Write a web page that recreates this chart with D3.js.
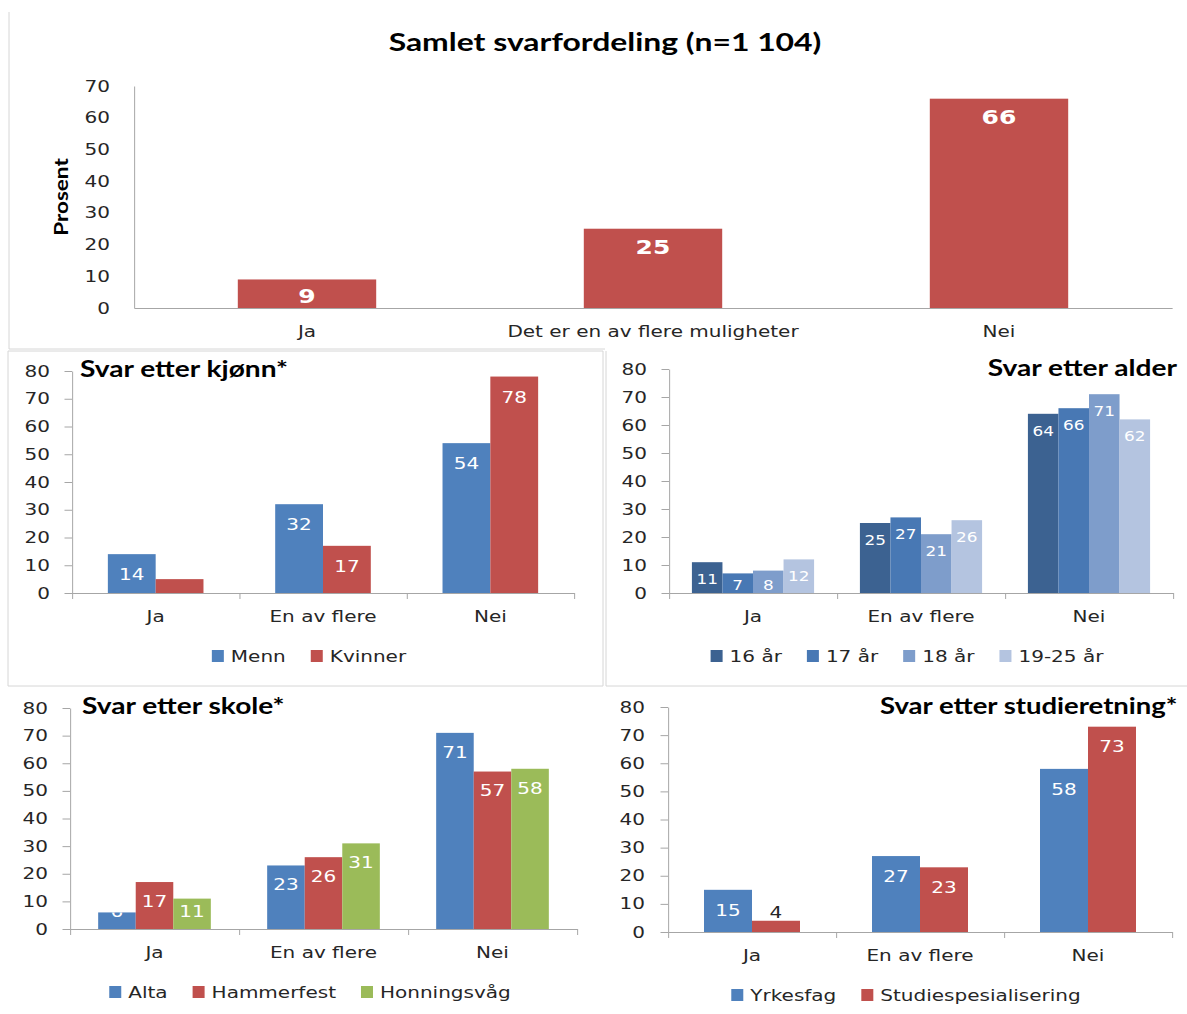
<!DOCTYPE html>
<html>
<head>
<meta charset="utf-8">
<script src="https://cdn.jsdelivr.net/npm/d3@7"></script>
<style>
  html, body { margin: 0; padding: 0; background: #fff; }
  svg { display: block; }
  svg line, svg path, svg rect.frame { vector-effect: non-scaling-stroke; }
</style>
</head>
<body>
<svg id="chart" width="1187" height="1014"></svg>
<script>
// ---- data -------------------------------------------------------------
const overallCategories = ["Ja", "Det er en av flere muligheter", "Nei"];
const overallValues = [9, 25, 66];
const overallTicks = [0, 10, 20, 30, 40, 50, 60, 70];

const groupCategories = ["Ja", "En av flere", "Nei"];
const groupTicks = [0, 10, 20, 30, 40, 50, 60, 70, 80];

const genderNames = ["Menn", "Kvinner"];
const genderMenn = [14, 32, 54];
const genderKvinner = [5, 17, 78];

const ageNames = ["16 år", "17 år", "18 år", "19-25 år"];
const age16 = [11, 25, 64];
const age17 = [7, 27, 66];
const age18 = [8, 21, 71];
const age19to25 = [12, 26, 62];

const schoolNames = ["Alta", "Hammerfest", "Honningsvåg"];
const schoolAlta = [6, 23, 71];
const schoolHammerfest = [17, 26, 57];
const schoolHonningsvag = [11, 31, 58];

const programNames = ["Yrkesfag", "Studiespesialisering"];
const programYrkesfag = [15, 27, 58];
const programStudie = [4, 23, 73];

// ---- drawing setup ----------------------------------------------------
// The sheet is drawn in a horizontally widened space; x values below are
// page pixels and are converted into that space with ux().
const SX = 1.25;
const ux = v => v / SX;

const NUM_FONT = "'DejaVu Sans', Verdana, sans-serif";
const TITLE_FONT = "Lato, 'Open Sans', sans-serif";
const TEXT = "#262626";
const AXIS = "#a6a6a6";
const FRAME = "#d6d6d6";
const RED = "#c0504d", BLUE = "#4f81bd", GREEN = "#9bbb59";

const svg = d3.select("#chart");
const root = svg.append("g").attr("transform", `scale(${SX},1)`);
let clipId = 0;

// panel frames
const frames = root.append("g").attr("stroke", FRAME).attr("fill", "none");
[[9, 12, 9, 349], [9, 349, 605, 349], [606, 351, 606, 686], [606, 686, 1187, 686]]
  .forEach(([a, b, c, d]) => frames.append("line")
    .attr("x1", ux(a)).attr("y1", b).attr("x2", ux(c)).attr("y2", d));
frames.append("rect").attr("class", "frame")
  .attr("x", ux(8)).attr("y", 351).attr("width", ux(603) - ux(8)).attr("height", 335);

function drawPanel(cfg) {
  const g = root.append("g");
  const cat = d3.scaleBand().domain(cfg.categories).range([ux(cfg.x0), ux(cfg.x1)]);
  const sub = d3.scaleBand().domain(cfg.series.map(s => s.name))
    .range([0, cat.bandwidth()]).paddingInner(0).paddingOuter(0.75);
  const y = d3.scaleLinear().domain([0, cfg.max]).range([cfg.y0, cfg.yTop]);

  // y axis
  g.append("g").attr("transform", `translate(${ux(cfg.x0)},0)`)
    .call(d3.axisLeft(y).tickValues(cfg.ticks).tickSize(cfg.yTick).tickSizeOuter(0)
      .tickPadding(ux(cfg.yLabelGap) - cfg.yTick));
  // x axis labels at category centres
  g.append("g").attr("transform", `translate(0,${cfg.y0})`)
    .call(d3.axisBottom(cat).tickSize(0).tickSizeOuter(0).tickPadding(18));
  // x axis tick marks on category boundaries
  if (cfg.xTick > 0) {
    const edges = d3.scaleLinear().domain([0, cfg.categories.length]).range([ux(cfg.x0), ux(cfg.x1)]);
    g.append("g").attr("transform", `translate(0,${cfg.y0})`)
      .call(d3.axisBottom(edges).ticks(cfg.categories.length).tickFormat("").tickSize(cfg.xTick).tickSizeOuter(0))
      .select(".domain").remove();
  }
  g.selectAll(".domain, .tick line").attr("stroke", AXIS);
  g.selectAll(".tick text").attr("fill", TEXT).attr("font-family", NUM_FONT).attr("font-size", 16);

  // bars and value labels
  const bars = g.append("g");
  const labels = g.append("g");
  cfg.series.forEach(s => {
    s.values.forEach((v, i) => {
      const bx = cat(cfg.categories[i]) + sub(s.name);
      const bw = sub.bandwidth();
      const top = y(v), base = y(0);
      bars.append("rect").attr("x", bx).attr("y", top).attr("width", bw)
        .attr("height", base - top).attr("fill", s.color);

      const fs = cfg.valueSize;
      let cy = top + cfg.valueOffset;
      let fill = "#fff", clipped = true;
      if (cfg.small === "clamp") cy = Math.min(cy, base - cfg.clampGap);
      if (cy - fs * 0.36 >= base && cfg.small === "hide") return;
      if (cy + fs * 0.36 > base && cfg.small === "outside") {
        cy = top - 9; fill = TEXT; clipped = false;
      }
      const t = labels.append("text")
        .attr("x", bx + bw / 2).attr("y", cy).attr("dy", "0.36em")
        .attr("text-anchor", "middle").attr("fill", fill)
        .attr("font-family", NUM_FONT).attr("font-size", fs)
        .attr("font-weight", cfg.valueWeight).text(v);
      if (clipped) {
        const id = "barclip" + (clipId++);
        g.append("clipPath").attr("id", id).append("rect")
          .attr("x", bx).attr("y", top).attr("width", bw).attr("height", base - top);
        t.attr("clip-path", `url(#${id})`);
      }
    });
  });

  // title
  g.append("text").attr("x", ux(cfg.title.x)).attr("y", cfg.title.y).attr("dy", "0.36em")
    .attr("text-anchor", cfg.title.anchor).attr("font-family", TITLE_FONT)
    .attr("font-weight", 700).attr("font-size", cfg.title.size).attr("fill", "#000")
    .text(cfg.title.text);

  // legend
  if (cfg.legend) {
    const lg = g.append("g");
    const sq = ux(12), gapText = ux(7), gapItem = ux(25);
    let cx = 0;
    cfg.series.forEach(s => {
      const item = lg.append("g").attr("transform", `translate(${cx},0)`);
      item.append("rect").attr("x", 0).attr("y", cfg.legend.y - 6).attr("width", sq).attr("height", 12).attr("fill", s.color);
      const tx = item.append("text").attr("x", sq + gapText).attr("y", cfg.legend.y).attr("dy", "0.36em")
        .attr("font-family", NUM_FONT).attr("font-size", 16).attr("fill", TEXT).text(s.name);
      cx += sq + gapText + tx.node().getComputedTextLength() + gapItem;
    });
    const total = cx - gapItem;
    lg.attr("transform", `translate(${ux(cfg.legend.cx) - total / 2},0)`);
  }
  return g;
}

// Overall distribution
const overall = drawPanel({
  x0: 134, x1: 1172, y0: 308, yTop: 86, max: 70, ticks: overallTicks,
  categories: overallCategories,
  series: [{ name: "Prosent", values: overallValues, color: RED }],
  yTick: 0, xTick: 0, yLabelGap: 24,
  valueSize: 20, valueWeight: 700, valueOffset: 18, small: "clamp", clampGap: 12,
  title: { text: "Samlet svarfordeling (n=1 104)", x: 605, y: 42, anchor: "middle", size: 25.5 },
  legend: null
});
overall.append("text")
  .attr("transform", `translate(${ux(62)},197) scale(${1 / SX},1) rotate(-90) scale(${SX},1)`)
  .attr("dy", "0.36em").attr("text-anchor", "middle")
  .attr("font-family", TITLE_FONT).attr("font-weight", 700).attr("font-size", 18).attr("fill", "#000")
  .text("Prosent");

// By gender
drawPanel({
  x0: 72, x1: 574, y0: 593, yTop: 371, max: 80, ticks: groupTicks,
  categories: groupCategories,
  series: [{ name: genderNames[0], values: genderMenn, color: BLUE },
           { name: genderNames[1], values: genderKvinner, color: RED }],
  yTick: 6, xTick: 6, yLabelGap: 22,
  valueSize: 16, valueWeight: 400, valueOffset: 20.5, small: "hide",
  title: { text: "Svar etter kjønn*", x: 80, y: 369, anchor: "start", size: 22.5 },
  legend: { cx: 309, y: 656 }
});

// By age
drawPanel({
  x0: 669, x1: 1173, y0: 593, yTop: 369, max: 80, ticks: groupTicks,
  categories: groupCategories,
  series: [{ name: ageNames[0], values: age16, color: "#3c6291" },
           { name: ageNames[1], values: age17, color: "#4878b4" },
           { name: ageNames[2], values: age18, color: "#7e9dcb" },
           { name: ageNames[3], values: age19to25, color: "#b4c4e0" }],
  yTick: 6, xTick: 6, yLabelGap: 22,
  valueSize: 13.5, valueWeight: 400, valueOffset: 17, small: "clamp", clampGap: 8,
  title: { text: "Svar etter alder", x: 1177, y: 368, anchor: "end", size: 22.5 },
  legend: { cx: 907, y: 656 }
});

// By school
drawPanel({
  x0: 70, x1: 577, y0: 929, yTop: 708, max: 80, ticks: groupTicks,
  categories: groupCategories,
  series: [{ name: schoolNames[0], values: schoolAlta, color: BLUE },
           { name: schoolNames[1], values: schoolHammerfest, color: RED },
           { name: schoolNames[2], values: schoolHonningsvag, color: GREEN }],
  yTick: 6, xTick: 6, yLabelGap: 22,
  valueSize: 16, valueWeight: 400, valueOffset: 19, small: "clamp", clampGap: 18,
  title: { text: "Svar etter skole*", x: 82, y: 706, anchor: "start", size: 22.5 },
  legend: { cx: 310, y: 992 }
});

// By study programme
drawPanel({
  x0: 668, x1: 1172, y0: 932, yTop: 707, max: 80, ticks: groupTicks,
  categories: groupCategories,
  series: [{ name: programNames[0], values: programYrkesfag, color: BLUE },
           { name: programNames[1], values: programStudie, color: RED }],
  yTick: 6, xTick: 6, yLabelGap: 23,
  valueSize: 16, valueWeight: 400, valueOffset: 20, small: "outside",
  title: { text: "Svar etter studieretning*", x: 880, y: 706, anchor: "start", size: 22 },
  legend: { cx: 906, y: 995 }
});
</script>
</body>
</html>
